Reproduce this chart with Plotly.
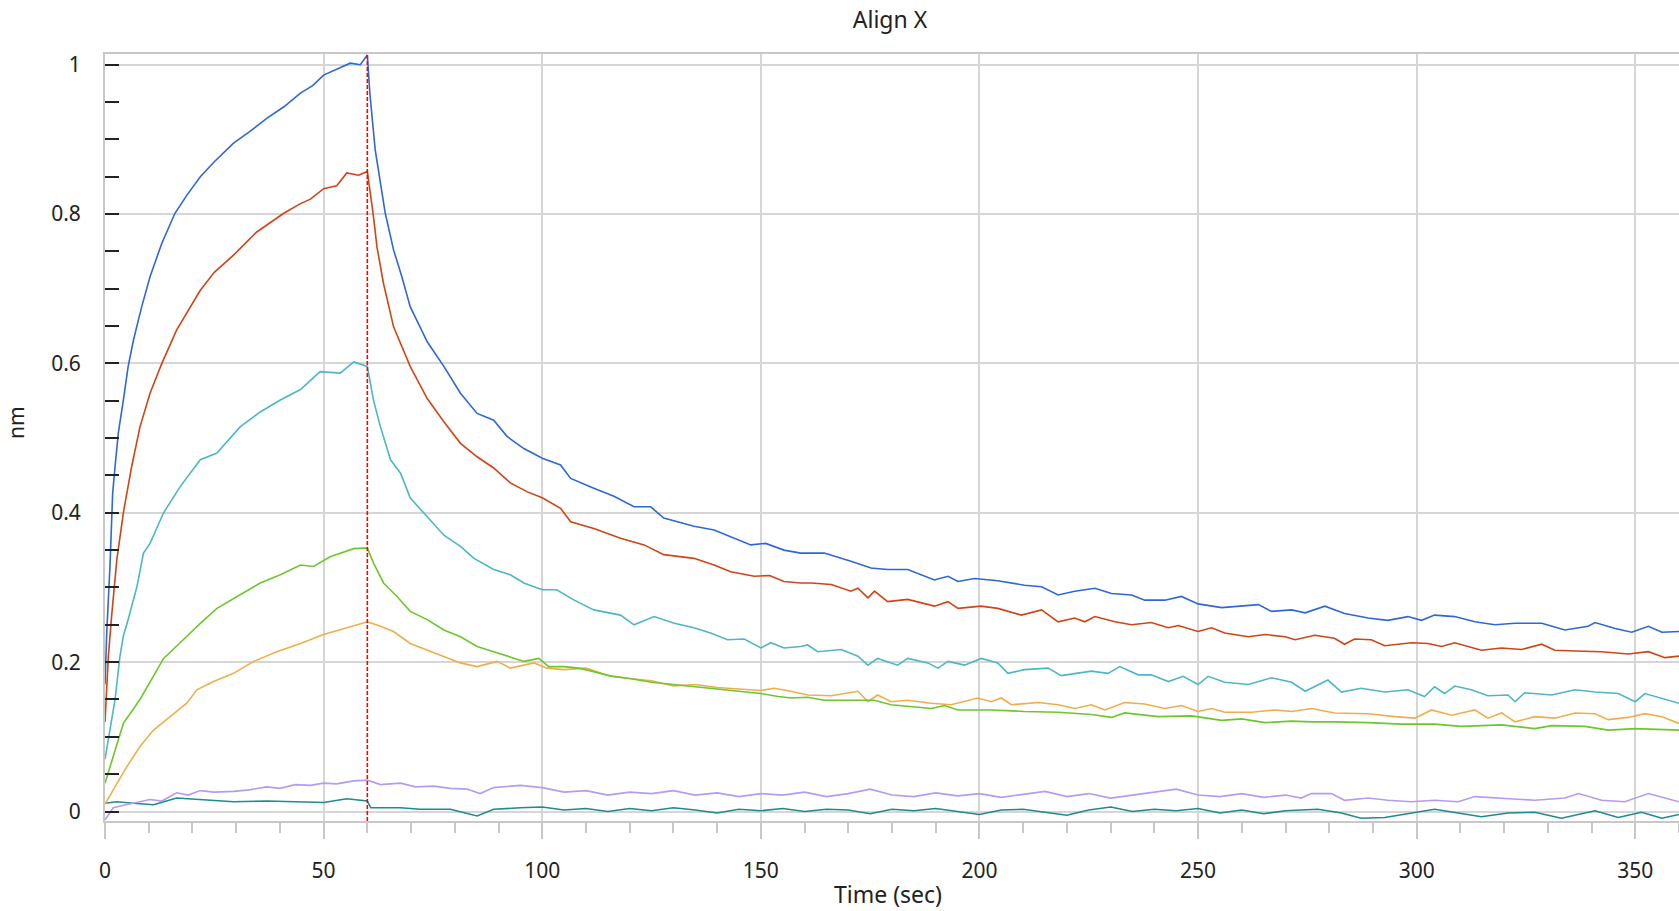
import plotly.graph_objects as go

# ---------------- data ----------------
title_text = "Align X"
x_label = "Time (sec)"
y_label = "nm"
step_time = 60  # association -> dissociation switch (red dashed line)

blue_t = [0, 0.4, 1.15, 1.75, 2.3, 3.05, 4.2, 5.3, 6.5, 8.4, 10.3, 13.0, 16.0, 18.7, 21.8, 25.0, 29.4, 33.0,
          37.0, 41.0, 44.7, 47.5, 50, 53, 56.1, 58.4, 60, 60.6, 61.8, 64.1, 66, 67.9, 69.8, 73.7, 77.5, 81.3,
          85.1, 88.9, 92, 95.8, 100, 104.2, 106.5, 111.8, 116.4, 121, 124.8, 127.8, 134.7, 139.3, 143.1, 147.7,
          151.1, 155.3, 159.1, 164.5, 170.6, 175.2, 179, 183.6, 189.7, 192.8, 195.1, 198.9, 204.2, 210.3,
          214.2, 218, 221.8, 226.4, 230.2, 234.8, 237.8, 242.4, 246.2, 250, 255.4, 260, 263.8, 266.8, 271.4,
          274.5, 279, 283.5, 288.9, 293.4, 298, 301.1, 304.1, 308.7, 313.3, 317.9, 322.5, 328.6, 333.9, 339.2,
          340.8, 345.4, 349.2, 353, 356.1, 360]
blue_v = [0.17, 0.24, 0.33, 0.426, 0.462, 0.507, 0.551, 0.596, 0.631, 0.676, 0.716, 0.761, 0.801, 0.825, 0.850,
          0.870, 0.895, 0.910, 0.928, 0.944, 0.962, 0.972, 0.986, 0.994, 1.002, 1.0, 1.013, 0.96, 0.886, 0.801,
          0.752, 0.716, 0.676, 0.629, 0.596, 0.560, 0.533, 0.524, 0.502, 0.486, 0.473, 0.464, 0.446, 0.433,
          0.422, 0.408, 0.408, 0.393, 0.382, 0.377, 0.368, 0.357, 0.359, 0.350, 0.346, 0.346, 0.335, 0.326,
          0.324, 0.324, 0.310, 0.315, 0.308, 0.312, 0.309, 0.303, 0.301, 0.290, 0.295, 0.299, 0.292, 0.290,
          0.283, 0.283, 0.288, 0.278, 0.273, 0.275, 0.277, 0.268, 0.270, 0.266, 0.275, 0.265, 0.259, 0.256,
          0.261, 0.256, 0.263, 0.261, 0.254, 0.250, 0.252, 0.252, 0.243, 0.248, 0.253, 0.245, 0.240, 0.248,
          0.240, 0.241]

red_t = [0, 0.76, 1.5, 2.7, 4.2, 6.1, 8.0, 10.3, 13.0, 16.4, 21.8, 25, 29.4, 34.7, 40.9, 44.7, 47, 50, 53, 55.3,
         58, 60, 61.4, 62.2, 63.7, 66, 69.8, 73.7, 77.5, 81.3, 85.1, 88.9, 92.7, 96.6, 100, 104.2, 106.5, 111.8,
         117.9, 123.3, 127.8, 134.7, 139.3, 143.1, 148.5, 152, 155.3, 159.1, 161.5, 166.1, 170.6, 172.2, 174.5,
         176, 179, 183.6, 189.7, 192.8, 195.1, 200.4, 204.2, 209.6, 214.2, 218, 221.8, 224.1, 226.4, 231, 234.8,
         239.3, 243.2, 245.5, 250, 253.1, 256.1, 261.5, 265.3, 269.9, 272.2, 276.7, 281.2, 283.5, 285.8, 289.6,
         292.7, 298.8, 302.6, 305.7, 308.7, 314.8, 319.4, 324, 328.6, 331.6, 336.2, 342.3, 348.4, 353, 356.8,
         360]
red_v = [0.12, 0.207, 0.261, 0.337, 0.40, 0.462, 0.515, 0.560, 0.600, 0.645, 0.698, 0.722, 0.745, 0.776, 0.801,
         0.814, 0.820, 0.834, 0.838, 0.855, 0.852, 0.857, 0.797, 0.756, 0.707, 0.649, 0.596, 0.553, 0.522, 0.493,
         0.475, 0.460, 0.440, 0.428, 0.420, 0.406, 0.388, 0.379, 0.366, 0.357, 0.344, 0.339, 0.330, 0.321, 0.315,
         0.316, 0.308, 0.306, 0.306, 0.304, 0.295, 0.299, 0.286, 0.295, 0.281, 0.284, 0.275, 0.281, 0.272,
         0.275, 0.272, 0.263, 0.270, 0.254, 0.259, 0.254, 0.261, 0.254, 0.250, 0.253, 0.246, 0.249, 0.241,
         0.246, 0.239, 0.234, 0.237, 0.234, 0.230, 0.236, 0.232, 0.224, 0.231, 0.230, 0.222, 0.226, 0.225,
         0.221, 0.226, 0.216, 0.219, 0.217, 0.224, 0.216, 0.215, 0.214, 0.211, 0.214, 0.206, 0.208]

cyan_t = [0, 0.4, 2.3, 3.4, 4.2, 5.3, 7.3, 8.8, 10.3, 13.4, 17.2, 21.8, 25.6, 30.9, 35.5, 40.1, 44.7, 49.2, 53.8,
          56.9, 60, 61.4, 63, 65.3, 67.6, 69.8, 73.7, 77.5, 81.3, 84.4, 88.9, 92.7, 95.8, 100, 103.3, 107.3,
          111.8, 117.9, 121, 125.6, 130.2, 134.7, 138.5, 142.4, 146.2, 150, 152.3, 155.3, 159.1, 160.7, 163,
          168.4, 172.2, 174.5, 176.7, 181.3, 183.6, 188.2, 190.5, 192.8, 196.6, 200.4, 204.2, 206.5, 210.3,
          215.7, 218.7, 221.8, 225.6, 229.4, 232.1, 236.3, 239.3, 243.2, 246.6, 250, 252.3, 256.1, 261.5,
          266.8, 271.4, 274.5, 276.7, 279.7, 282.8, 287.3, 292.7, 298, 301.8, 304.1, 306.4, 308.7, 312.5,
          316.3, 320.9, 322.5, 324.7, 330.9, 336.2, 340.8, 346.1, 350, 352.2, 356.1, 360]
cyan_v = [0.07, 0.083, 0.15, 0.207, 0.235, 0.257, 0.301, 0.346, 0.359, 0.40, 0.435, 0.471, 0.48, 0.515, 0.535,
          0.551, 0.565, 0.589, 0.587, 0.602, 0.596, 0.551, 0.515, 0.471, 0.453, 0.420, 0.395, 0.370, 0.355,
          0.339, 0.324, 0.317, 0.306, 0.297, 0.297, 0.283, 0.270, 0.263, 0.250, 0.261, 0.252, 0.246, 0.239,
          0.230, 0.231, 0.219, 0.226, 0.219, 0.221, 0.223, 0.214, 0.217, 0.208, 0.196, 0.205, 0.196, 0.205,
          0.199, 0.192, 0.201, 0.196, 0.205, 0.199, 0.185, 0.190, 0.192, 0.182, 0.185, 0.188, 0.185, 0.194,
          0.183, 0.183, 0.174, 0.181, 0.170, 0.181, 0.173, 0.170, 0.179, 0.173, 0.161, 0.167, 0.176, 0.160,
          0.165, 0.160, 0.163, 0.154, 0.167, 0.158, 0.168, 0.163, 0.155, 0.156, 0.147, 0.159, 0.156, 0.163,
          0.160, 0.158, 0.147, 0.158, 0.152, 0.145]

green_t = [0, 1.9, 4.2, 8.0, 13.4, 17.9, 21.8, 25.6, 29.4, 30.9, 35.5, 40.1, 44.7, 47.7, 51.5, 56.9, 60, 61.4,
           63.7, 66.8, 69.8, 73.7, 77.5, 81.3, 85.1, 88.9, 92.7, 95.8, 99.2, 101.5, 105, 108.4, 112, 116, 120,
           125, 130, 135, 140, 145, 150, 154, 156.9, 160.7, 164.5, 176, 179.8, 189, 192, 195.1, 202.7, 210.3,
           218, 225.6, 230.2, 233.2, 240.9, 248.5, 255.4, 260, 265.3, 271.4, 276, 281.2, 288.9, 296.5, 304.1,
           310.2, 319.4, 327, 330.9, 338.5, 343.8, 350, 360]
green_v = [0.038, 0.074, 0.118, 0.15, 0.205, 0.23, 0.252, 0.272, 0.285, 0.290, 0.306, 0.317, 0.330, 0.328,
           0.341, 0.352, 0.353, 0.333, 0.306, 0.288, 0.268, 0.257, 0.243, 0.234, 0.221, 0.214, 0.207, 0.201,
           0.205, 0.194, 0.194, 0.192, 0.187, 0.181, 0.178, 0.173, 0.170, 0.167, 0.164, 0.161, 0.158, 0.154,
           0.152, 0.153, 0.149, 0.149, 0.143, 0.138, 0.142, 0.136, 0.136, 0.134, 0.133, 0.130, 0.126, 0.132,
           0.127, 0.128, 0.122, 0.124, 0.119, 0.121, 0.120, 0.120, 0.119, 0.117, 0.117, 0.114, 0.116, 0.111,
           0.115, 0.114, 0.109, 0.111, 0.109]

orange_t = [0, 1.9, 5.0, 8.0, 11.1, 14.9, 18.7, 21, 24.8, 29.4, 34, 39.3, 44.7, 50, 56.1, 60, 63, 66, 69.8, 73.7,
            77.5, 81.3, 85.1, 89.7, 92.7, 98.1, 101.1, 105, 110, 115, 120, 125, 130, 135, 140, 145, 150, 153,
            156.9, 160.7, 166.1, 172.2, 174.5, 176.7, 179.8, 183.6, 189, 193.5, 199.6, 202.7, 205, 207.3, 213.4,
            218, 221.8, 225.6, 228.7, 233.2, 237.8, 242.4, 246.2, 250, 253.1, 256.1, 262.2, 267.6, 271.4, 276,
            281.2, 288.9, 295, 299.6, 303.4, 308, 313.3, 316.3, 319.4, 322.5, 327, 331.6, 336.2, 340.8, 343.8,
            348.4, 352.2, 356.1, 360]
orange_v = [0.01, 0.029, 0.06, 0.087, 0.109, 0.127, 0.145, 0.163, 0.174, 0.185, 0.201, 0.214, 0.225, 0.237,
            0.248, 0.254, 0.248, 0.241, 0.225, 0.216, 0.207, 0.199, 0.194, 0.201, 0.192, 0.199, 0.192, 0.190,
            0.192, 0.182, 0.178, 0.175, 0.168, 0.170, 0.166, 0.164, 0.162, 0.165, 0.161, 0.156, 0.155, 0.161,
            0.147, 0.156, 0.147, 0.149, 0.145, 0.143, 0.152, 0.147, 0.152, 0.143, 0.146, 0.143, 0.138, 0.143,
            0.136, 0.146, 0.144, 0.138, 0.142, 0.134, 0.138, 0.133, 0.133, 0.136, 0.134, 0.138, 0.132, 0.131,
            0.127, 0.125, 0.136, 0.129, 0.136, 0.125, 0.132, 0.120, 0.127, 0.125, 0.132, 0.131, 0.123, 0.126,
            0.131, 0.127, 0.118]

lavender_t = [0, 1.9, 4, 6.5, 10.3, 13, 16.4, 19, 21.8, 25, 29.4, 33, 37, 40, 43.5, 47, 50, 53, 56.9, 60, 63,
              67.6, 71, 75.2, 79, 82.8, 85.8, 88.9, 95, 100, 105, 110, 115, 120, 125, 130, 135, 140, 145, 150,
              155, 160, 165, 170, 175, 180, 185, 190, 195, 200, 205, 210, 215, 220, 225, 230, 235, 240, 245, 250,
              255, 260, 265, 270, 273.6, 275.9, 280.5, 283.5, 288.9, 293.4, 298.8, 304.1, 309.5, 313.3, 319.4,
              327, 333.9, 337, 342.3, 347.6, 353, 356.8, 360]
lavender_v = [-0.011, 0.005, 0.008, 0.011, 0.016, 0.014, 0.025, 0.022, 0.028, 0.026, 0.027, 0.029, 0.033,
              0.031, 0.036, 0.035, 0.038, 0.037, 0.041, 0.042, 0.036, 0.038, 0.033, 0.034, 0.031, 0.030, 0.024,
              0.032, 0.035, 0.032, 0.026, 0.028, 0.022, 0.026, 0.024, 0.028, 0.022, 0.025, 0.020, 0.024, 0.022,
              0.026, 0.020, 0.024, 0.030, 0.022, 0.020, 0.025, 0.021, 0.024, 0.019, 0.023, 0.027, 0.020, 0.024,
              0.018, 0.022, 0.026, 0.030, 0.022, 0.020, 0.024, 0.019, 0.022, 0.018, 0.024, 0.024, 0.015, 0.018,
              0.015, 0.013, 0.015, 0.013, 0.020, 0.018, 0.015, 0.018, 0.024, 0.015, 0.013, 0.024, 0.018, 0.013]

teal_t = [0, 2.7, 6.5, 11.1, 16.4, 21.8, 29.4, 37, 44.7, 50, 55.3, 60, 60.8, 67.6, 72.1, 79, 85.1, 88.9, 95, 100,
          105, 110, 115, 120, 125, 130, 135, 140, 145, 150, 155, 160, 165, 170, 175, 180, 185, 190, 195, 200,
          205, 210, 215, 220, 225, 230, 235, 240, 245, 250, 255, 260, 265, 270, 273.6, 277.4, 282.8, 287.3,
          292.7, 298.8, 304.1, 309.5, 314.8, 320.9, 327, 333.1, 340.8, 346.1, 351.4, 356.1, 360]
teal_v = [0.011, 0.013, 0.011, 0.009, 0.018, 0.016, 0.013, 0.014, 0.013, 0.012, 0.017, 0.014, 0.005, 0.005,
          0.003, 0.003, -0.006, 0.003, 0.005, 0.006, 0.002, 0.004, 0.000, 0.004, 0.001, 0.005, 0.002, -0.002,
          0.003, 0.001, 0.004, 0.000, 0.003, 0.002, -0.003, 0.003, 0.001, 0.004, 0.000, -0.004, 0.002, 0.003,
          -0.001, -0.005, 0.002, 0.006, 0.000, 0.003, 0.001, 0.004, -0.002, 0.002, -0.003, 0.001, 0.002, 0.003,
          -0.002, -0.009, -0.008, -0.002, 0.003, -0.002, -0.007, -0.002, -0.001, -0.009, 0.001, -0.008, -0.001,
          -0.009, -0.004]

series = [
    ("teal", teal_t, teal_v, "#1F8A8F"),
    ("lavender", lavender_t, lavender_v, "#B49CF0"),
    ("orange", orange_t, orange_v, "#F0AE4B"),
    ("green", green_t, green_v, "#6BC72E"),
    ("cyan", cyan_t, cyan_v, "#4DB6C8"),
    ("red", red_t, red_v, "#D04515"),
    ("blue", blue_t, blue_v, "#2F68D3"),
]

x_range = [0, 360]
y_range = [-0.0127, 1.0143]
x_ticks = [0, 50, 100, 150, 200, 250, 300, 350]
y_ticks = [0, 0.2, 0.4, 0.6, 0.8, 1]
y_tick_text = ["0", "0.2", "0.4", "0.6", "0.8", "1"]

FONT = "Noto Sans, Open Sans, sans-serif"

fig = go.Figure()
for name, t, v, col in series:
    fig.add_trace(go.Scatter(x=t, y=v, mode="lines", name=name,
                             line=dict(color=col, width=1.6), showlegend=False))

fig.add_shape(type="line", xref="x", yref="paper", x0=step_time, x1=step_time, y0=0, y1=1,
              line=dict(color="#FF0000", width=1.6, dash="4px,2px"), layer="above")

fig.update_layout(
    width=1679, height=911,
    margin=dict(l=105, r=0, t=54, b=90),
    paper_bgcolor="white", plot_bgcolor="white",
    font=dict(family=FONT, size=20, color="#222222"),
    title=dict(text=title_text, x=(890 - 105) / 1574, xref="paper", xanchor="center",
               y=1 - 20 / 911, yref="container", yanchor="middle",
               font=dict(family=FONT, size=23, color="#222222")),
    annotations=[
        dict(text=x_label, xref="paper", yref="paper", x=(888 - 105) / 1574, y=(821 - 894) / 767,
             xanchor="center", yanchor="middle", showarrow=False,
             font=dict(family=FONT, size=23, color="#222222")),
        dict(text=y_label, xref="paper", yref="paper", x=(16 - 105) / 1574, y=(821 - 423) / 767,
             xanchor="center", yanchor="middle", showarrow=False, textangle=-90,
             font=dict(family=FONT, size=21, color="#222222")),
    ],
)

fig.update_xaxes(
    range=x_range, tickvals=x_ticks, showgrid=True, gridcolor="#D6D6D6", gridwidth=1.6,
    zeroline=False, showline=True, linecolor="#C8C8C8", linewidth=2, mirror=True,
    ticks="outside", ticklen=16, tickcolor="#C8C8C8", tickwidth=1.6, ticklabelstandoff=14,
    tickfont=dict(family=FONT, size=21, color="#222222"),
    minor=dict(dtick=10, ticks="outside", ticklen=10, tickcolor="#C8C8C8", tickwidth=1.6, showgrid=False),
)
fig.update_yaxes(
    range=y_range, tickvals=y_ticks, ticktext=y_tick_text, showgrid=True, gridcolor="#D6D6D6", gridwidth=1.6,
    zeroline=False, showline=True, linecolor="#C8C8C8", linewidth=2,
    ticks="inside", ticklen=14, tickcolor="#222222", tickwidth=2, ticklabelstandoff=18,
    tickfont=dict(family=FONT, size=21, color="#222222"),
    minor=dict(tick0=0, dtick=0.05, ticks="inside", ticklen=14, tickcolor="#222222", tickwidth=2, showgrid=False),
)

fig.write_html("out.html")
